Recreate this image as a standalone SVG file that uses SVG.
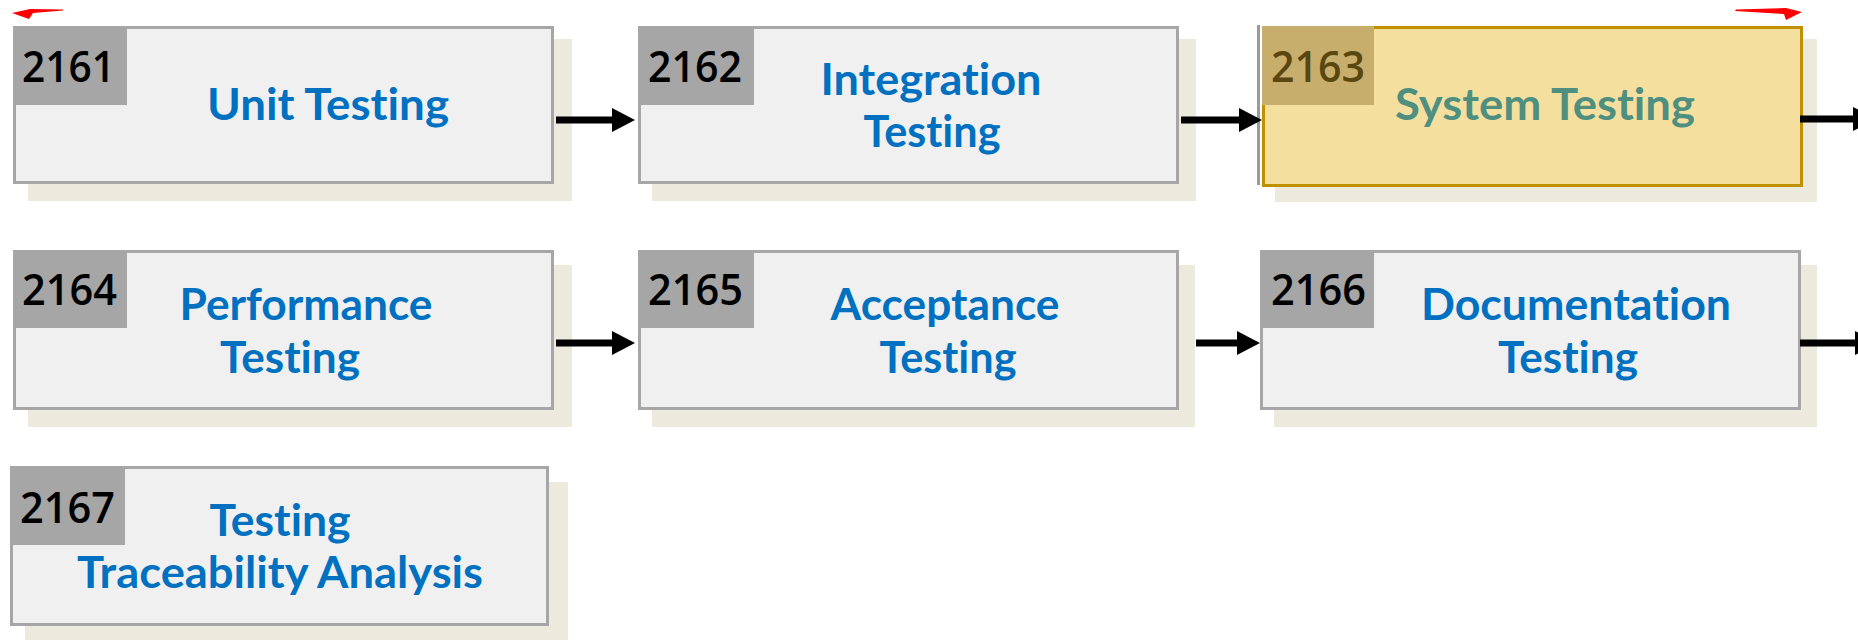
<svg xmlns="http://www.w3.org/2000/svg" width="1858" height="640" viewBox="0 0 1858 640">
  <style>
    .shadow { fill: #ece9dd; }
    .box { fill: #f0f0f0; stroke: #a6a6a6; stroke-width: 3; }
    .tag { fill: #a6a6a6; }
    .num { font-family: "Open Sans", "Noto Sans", "Liberation Sans", sans-serif; font-weight: 600; font-size: 43px; fill: #000000; }
    .title { font-family: Lato, "Open Sans", "Liberation Sans", sans-serif; font-weight: 700; font-size: 43px; fill: #0070c0; text-anchor: middle; font-variant-ligatures: none; font-feature-settings: "liga" 0, "clig" 0, "dlig" 0; }
    .sel .box { fill: #f5df9e; stroke: #bf9000; }
    .sel .tag { fill: #c8ae6c; }
    .sel .num { fill: #5a4710; }
    .sel .title { fill: #4f8f80; }
    .link { fill: none; stroke: #000000; stroke-width: 7; }
    .mark { fill: #ff0000; }
  </style>
  <defs>
    <marker id="head" viewBox="0 0 23 24" refX="0" refY="12" markerWidth="23" markerHeight="24" markerUnits="userSpaceOnUse" orient="auto">
      <path d="M0,0 L23,12 L0,24 Z" fill="#000000"/>
    </marker>
  </defs>

  <rect width="1858" height="640" fill="#ffffff"/>

  <!-- partially visible red connector ends at the top edge -->
  <g id="red-marks">
    <path class="mark" d="M12,13 L30,9 L63,9.5 L63,10.5 L33,13 L29,19 Z"/>
    <path class="mark" d="M1802,12 L1786,20 L1784,14 L1735,11 L1736,9.5 L1786,8 Z"/>
  </g>

  <g id="n2161">
    <rect class="shadow" x="28" y="39" width="544" height="162"/>
    <rect class="box" x="14.5" y="27.5" width="538" height="155"/>
    <rect class="tag" x="13" y="26" width="114" height="79"/>
    <text class="num" x="22" y="82" textLength="93" lengthAdjust="spacingAndGlyphs">2161</text>
    <text class="title" x="328" y="120" textLength="242" lengthAdjust="spacingAndGlyphs">Unit Testing</text>
  </g>

  <g id="n2162">
    <rect class="shadow" x="652" y="39" width="544" height="162"/>
    <rect class="box" x="639.5" y="27.5" width="538" height="155"/>
    <rect class="tag" x="638" y="26" width="116" height="79"/>
    <text class="num" x="648" y="82" textLength="94" lengthAdjust="spacingAndGlyphs">2162</text>
    <text class="title" x="931" y="95" textLength="221" lengthAdjust="spacingAndGlyphs">Integration</text>
    <text class="title" x="932" y="147" textLength="137" lengthAdjust="spacingAndGlyphs">Testing</text>
  </g>

  <g id="n2163" class="sel">
    <rect class="shadow" x="1275" y="39" width="542" height="163"/>
    <rect x="1257" y="25" width="3" height="160" fill="#9a9a9a"/>
    <rect class="box" x="1263.5" y="27.5" width="538" height="158"/>
    <rect class="tag" x="1262" y="26" width="112" height="79"/>
    <text class="num" x="1271" y="82" textLength="94" lengthAdjust="spacingAndGlyphs">2163</text>
    <text class="title" x="1545" y="120" textLength="300" lengthAdjust="spacingAndGlyphs">System Testing</text>
  </g>

  <g id="n2164">
    <rect class="shadow" x="28" y="265" width="544" height="162"/>
    <rect class="box" x="14.5" y="251.5" width="538" height="157"/>
    <rect class="tag" x="13" y="250" width="114" height="78"/>
    <text class="num" x="22" y="305" textLength="95" lengthAdjust="spacingAndGlyphs">2164</text>
    <text class="title" x="306" y="320" textLength="253" lengthAdjust="spacingAndGlyphs">Performance</text>
    <text class="title" x="290" y="373" textLength="140" lengthAdjust="spacingAndGlyphs">Testing</text>
  </g>

  <g id="n2165">
    <rect class="shadow" x="652" y="265" width="543" height="162"/>
    <rect class="box" x="639.5" y="251.5" width="538" height="157"/>
    <rect class="tag" x="638" y="250" width="116" height="78"/>
    <text class="num" x="648" y="305" textLength="95" lengthAdjust="spacingAndGlyphs">2165</text>
    <text class="title" x="945" y="320" textLength="229" lengthAdjust="spacingAndGlyphs">Acceptance</text>
    <text class="title" x="948" y="373" textLength="137" lengthAdjust="spacingAndGlyphs">Testing</text>
  </g>

  <g id="n2166">
    <rect class="shadow" x="1274" y="265" width="543" height="162"/>
    <rect class="box" x="1261.5" y="251.5" width="538" height="157"/>
    <rect class="tag" x="1260" y="250" width="114" height="78"/>
    <text class="num" x="1271" y="305" textLength="95" lengthAdjust="spacingAndGlyphs">2166</text>
    <text class="title" x="1576" y="320" textLength="310" lengthAdjust="spacingAndGlyphs">Documentation</text>
    <text class="title" x="1568" y="373" textLength="140" lengthAdjust="spacingAndGlyphs">Testing</text>
  </g>

  <g id="n2167">
    <rect class="shadow" x="25" y="482" width="543" height="158"/>
    <rect class="box" x="11.5" y="467.5" width="536" height="157"/>
    <rect class="tag" x="10" y="466" width="115" height="79"/>
    <text class="num" x="20" y="523" textLength="95" lengthAdjust="spacingAndGlyphs">2167</text>
    <text class="title" x="280" y="536" textLength="141" lengthAdjust="spacingAndGlyphs">Testing</text>
    <text class="title" x="280" y="588" textLength="406" lengthAdjust="spacingAndGlyphs">Traceability  Analysis</text>
  </g>

  <g id="connectors">
    <path class="link" d="M556,120 H612" marker-end="url(#head)"/>
    <path class="link" d="M1181,120 H1239" marker-end="url(#head)"/>
    <path class="link" d="M1800,119 H1853" marker-end="url(#head)"/>
    <path class="link" d="M556,343 H612" marker-end="url(#head)"/>
    <path class="link" d="M1196,343 H1237" marker-end="url(#head)"/>
    <path class="link" d="M1800,343 H1855" marker-end="url(#head)"/>
  </g>
</svg>
